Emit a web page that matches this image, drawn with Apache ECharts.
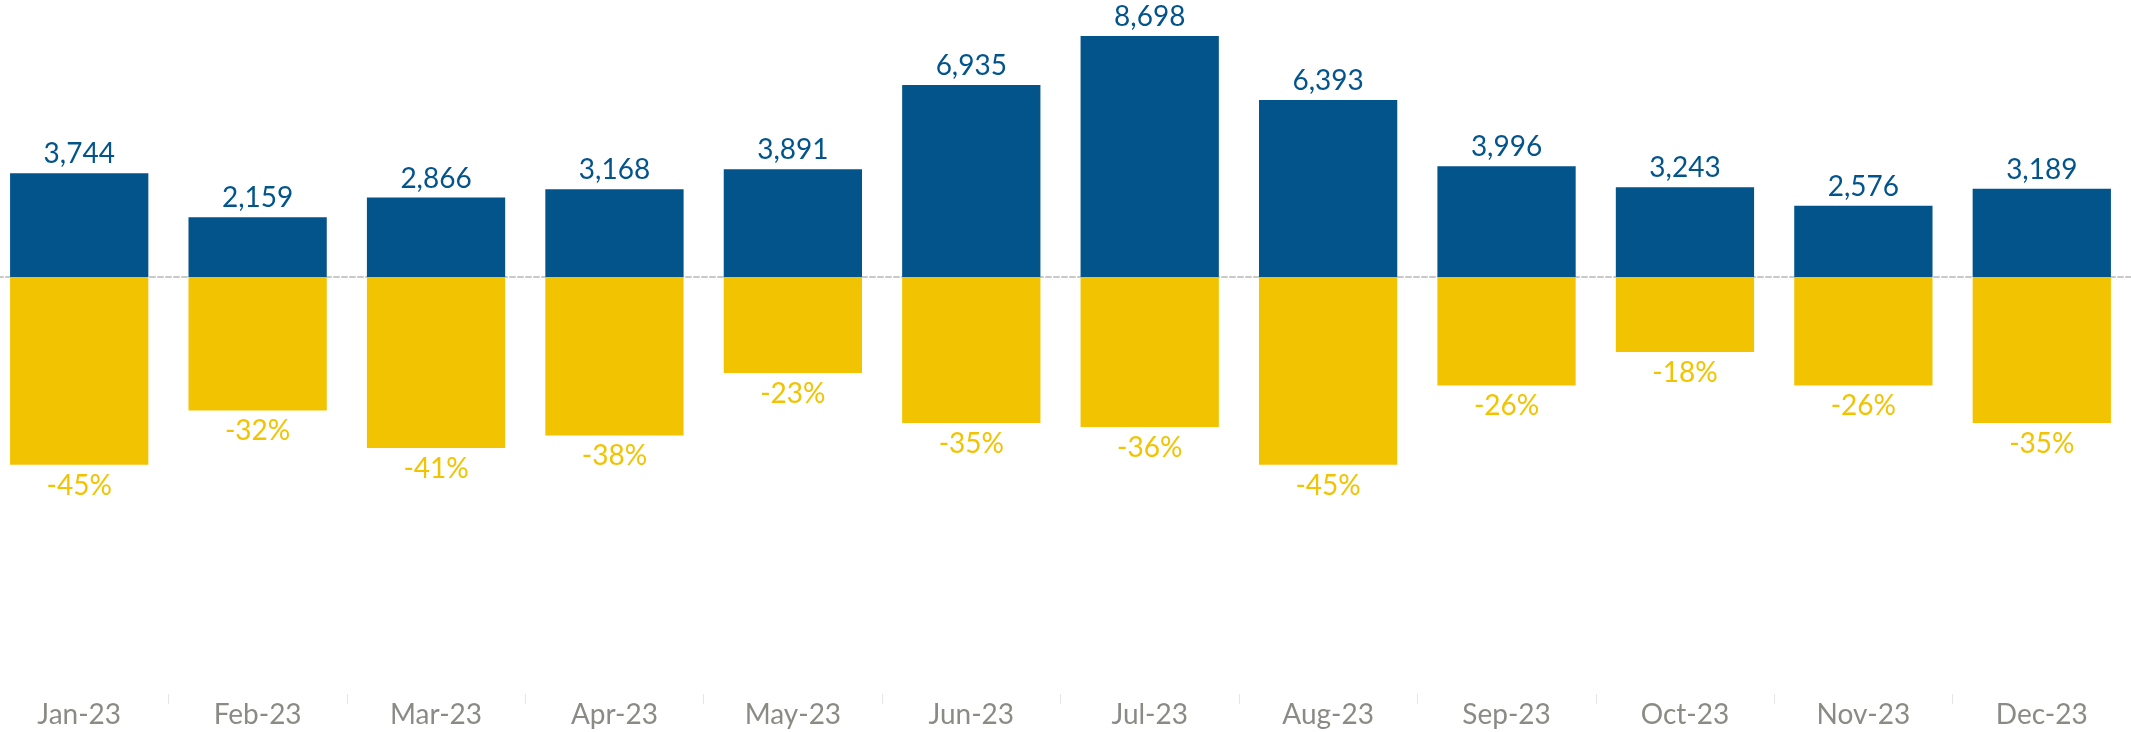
<!DOCTYPE html>
<html>
<head>
<meta charset="utf-8">
<style>
  html, body { margin: 0; padding: 0; background: #ffffff; overflow: hidden; }
  /* plot area runs slightly past the left page edge */
  #chart { position: absolute; left: -10px; top: 0; width: 2141px; height: 732px; }
</style>
<script src="https://cdn.jsdelivr.net/npm/echarts@6/dist/echarts.min.js"></script>
</head>
<body>
<div id="chart"></div>
<script>
// Monthly totals (top bars) and year-over-year change in percent (bottom bars)
const months = ['Jan-23', 'Feb-23', 'Mar-23', 'Apr-23', 'May-23', 'Jun-23',
                'Jul-23', 'Aug-23', 'Sep-23', 'Oct-23', 'Nov-23', 'Dec-23'];
const totals = [3744, 2159, 2866, 3168, 3891, 6935, 8698, 6393, 3996, 3243, 2576, 3189];
const changePct = [-45, -32, -41, -38, -23, -35, -36, -45, -26, -18, -26, -35];

const BLUE = '#02548b';
const YELLOW = '#f2c300';
const GREY_TEXT = '#8b8b86';
const FONT = 'Lato, "Open Sans", sans-serif';

const chart = echarts.init(document.getElementById('chart'), null, { renderer: 'canvas' });

chart.setOption({
  animation: false,
  backgroundColor: '#ffffff',
  grid: [
    { left: 0, right: 0, top: 0, height: 277 },
    { left: 0, right: 0, top: 277, height: 417 }
  ],
  xAxis: [
    {
      gridIndex: 0,
      type: 'category',
      position: 'bottom',
      data: months,
      axisLine: { show: true, onZero: false, lineStyle: { color: '#c9c9c9', width: 2, type: [5, 3] } },
      axisTick: { show: false },
      axisLabel: { show: false }
    },
    {
      gridIndex: 1,
      type: 'category',
      position: 'bottom',
      data: months,
      axisLine: { show: false, onZero: false },
      axisTick: { show: true, length: 10, lineStyle: { color: '#e6e6e6', width: 1 } },
      axisLabel: {
        show: true,
        margin: 7,
        color: GREY_TEXT,
        fontSize: 28,
        fontFamily: FONT
      }
    }
  ],
  yAxis: [
    { gridIndex: 0, type: 'value', min: 0, max: 10000, show: false },
    { gridIndex: 1, type: 'value', min: -100, max: 0, show: false }
  ],
  series: [
    {
      type: 'bar',
      name: 'Total',
      xAxisIndex: 0,
      yAxisIndex: 0,
      data: totals,
      barWidth: '77.5%',
      itemStyle: { color: BLUE },
      label: {
        show: true,
        position: 'top',
        distance: 5,
        color: BLUE,
        fontSize: 28,
        fontFamily: FONT,
        formatter: p => p.value.toLocaleString('en-US')
      }
    },
    {
      type: 'bar',
      name: 'Change',
      xAxisIndex: 1,
      yAxisIndex: 1,
      data: changePct,
      barWidth: '77.5%',
      itemStyle: { color: YELLOW },
      label: {
        show: true,
        position: 'bottom',
        distance: 7,
        color: YELLOW,
        fontSize: 28,
        fontFamily: FONT,
        formatter: p => p.value + '%'
      }
    }
  ]
});
</script>
</body>
</html>
